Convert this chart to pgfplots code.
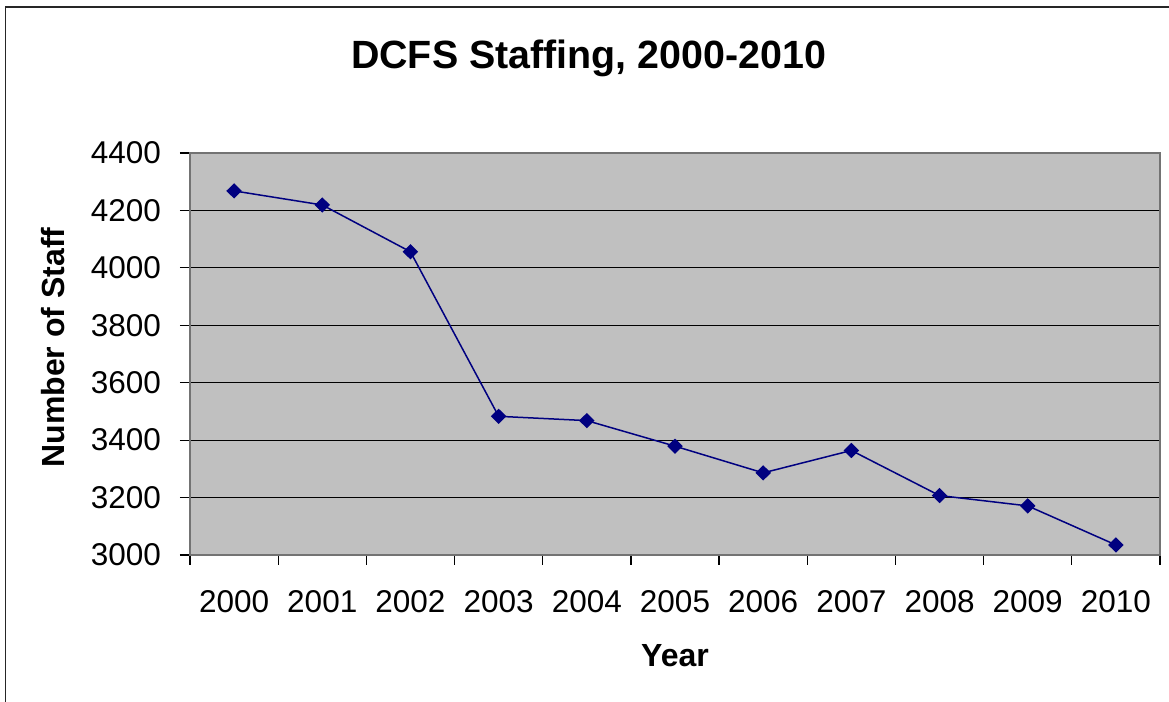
\documentclass[border=0pt]{standalone}
\usepackage{pgfplots}
\pgfplotsset{compat=1.18}
\usepackage{fontspec}
\setmainfont{Liberation Sans}
\definecolor{navy}{RGB}{0,0,128}
\definecolor{plotgray}{RGB}{192,192,192}
\begin{document}
\begin{tikzpicture}
\useasboundingbox (0,0) rectangle (584.5pt,351pt);
\draw[line width=0.6pt, black!85] (2.75pt,-20pt) -- (2.75pt,347.5pt) -- (620pt,347.5pt);
\begin{axis}[
  at={(95pt,73.5pt)}, anchor=south west,
  width=485pt, height=201pt, scale only axis,
  xmin=-0.5, xmax=10.5,
  ymin=3000, ymax=4400,
  ytick={3000,3200,...,4400},
  xtick={0,...,10},
  xticklabels={2000,2001,2002,2003,2004,2005,2006,2007,2008,2009,2010},
  minor xtick={-0.5,0.5,...,10.5},
  major x tick style={draw=none},
  minor x tick style={draw=black, line width=0.6pt},
  minor tick length=5pt,
  major tick length=5pt,
  y tick style={draw=black, line width=0.6pt},
  tick align=outside,
  tick pos=left,
  ymajorgrids,
  grid style={black, line width=0.5pt},
  axis background/.style={fill=plotgray},
  axis line style={draw=black!55, line width=0.8pt},
  /pgf/number format/assume math mode=true,
  /pgf/number format/1000 sep={},
  ticklabel style={font=\fontsize{15.75}{18}\selectfont},
  yticklabel style={anchor=east, xshift=-6pt},
  xticklabel style={anchor=base, yshift=-23.8pt},
  title={DCFS Staffing, 2000-2010},
  title style={at={(rel axis cs:0.411,1.209)}, anchor=base, yshift=-6pt, font=\fontsize{19.7}{23}\selectfont\bfseries},
  xlabel={Year},
  xlabel style={at={(rel axis cs:0.5,-0.2786)}, anchor=base, font=\fontsize{16}{19}\selectfont\bfseries},
  ylabel={Number of Staff},
  ylabel style={at={(rel axis cs:-0.1289,0.516)}, anchor=base, rotate=0, font=\fontsize{16}{19}\selectfont\bfseries},
]
\addplot[color=navy, line width=0.75pt, mark=diamond*, mark size=3.3pt, mark options={xscale=1.35, fill=navy, draw=navy}]
coordinates {
(0,4268) (1,4219) (2,4056) (3,3483) (4,3468) (5,3379) (6,3286) (7,3364) (8,3207) (9,3171) (10,3035)
};
\end{axis}
\end{tikzpicture}
\end{document}
